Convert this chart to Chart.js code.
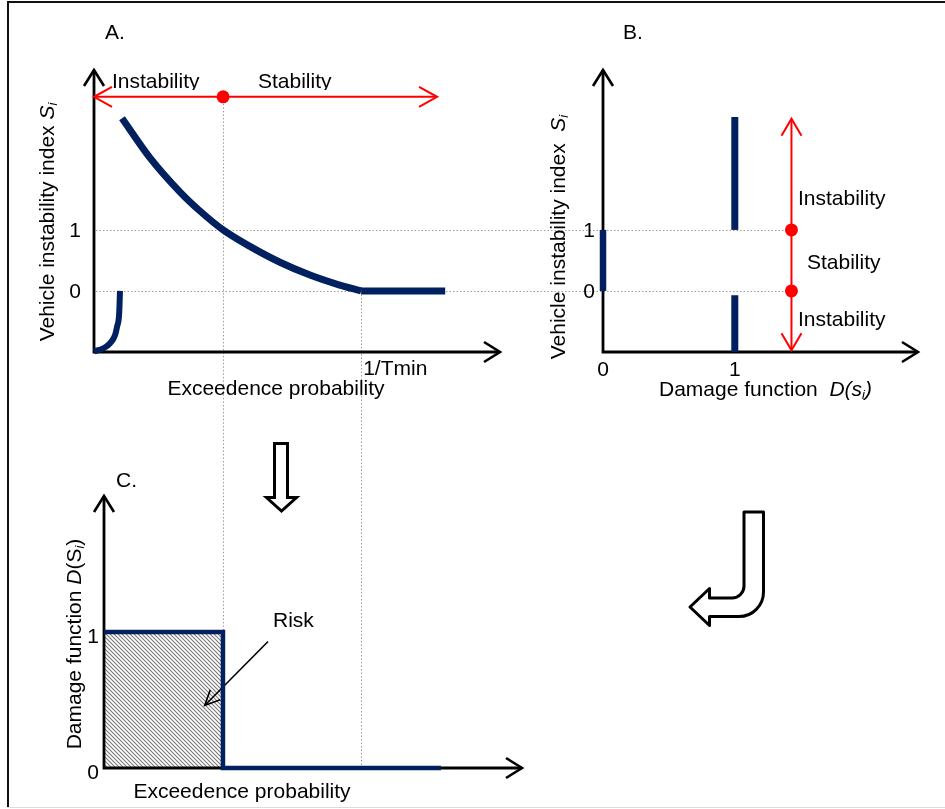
<!DOCTYPE html>
<html>
<head>
<meta charset="utf-8">
<title>Vehicle instability and risk</title>
<script src="https://cdn.jsdelivr.net/npm/chart.js@4.4.1/dist/chart.umd.min.js"></script>
<style>
  html, body { margin: 0; padding: 0; background: #fff; }
  #stage { position: relative; width: 945px; height: 809px; overflow: hidden; }
  #stage canvas { position: absolute; left: 0; top: 0; }
</style>
</head>
<body>
<div id="stage">
  <canvas id="frame" width="945" height="809"></canvas>
  <canvas id="panelA" width="945" height="809"></canvas>
  <canvas id="panelB" width="945" height="809"></canvas>
  <canvas id="panelC" width="945" height="809"></canvas>
</div>
<script>
// A. instability index S_i against exceedence probability
const probA = [0.69, 1.38, 2.12, 2.61, 3.18, 3.84, 4.58, 5.32, 6.03, 6.58];
const indexA = [2.83, 2.18, 1.62, 1.31, 1.00, 0.73, 0.47, 0.26, 0.10, 0];
const probTail = [6.58, 8.65];
const indexTail = [0, 0];
const probLow = [0, 0.23, 0.39, 0.52, 0.57, 0.62, 0.64];
const indexLow = [-0.99, -0.94, -0.86, -0.72, -0.58, -0.37, 0];
const probCritical = 3.18;   // S_i = 1
const probMin = 6.58;        // 1/Tmin
const regimeLevel = 3.18;    // height of the instability / stability arrow
const regimeEnd = 8.45;

// B. damage function against S_i
const stableSpan = [0, 1];
const unstableHigh = [1, 2.85];
const unstableLow = [-1, -0.07];
const regimeX = 1.43;
const regimeSpan = [-0.97, 2.82];
const regimeDots = [0, 1];

// C. damage function against exceedence probability
const riskLevel = 1;
const probStart = 0.25;
const probStepEnd = 8.55;
const pointerProb = [4.29, 2.73];
const pointerDamage = [0.93, 0.46];

// tick labels
const indexTicks = [0, 1];
const damageTicks = [0, 1];
const probTicks = [probMin];
const probTickLabels = ['1/Tmin'];

const W = 945, H = 809;
const FONT = '"Liberation Sans", Arial, Helvetica, sans-serif';
const NAVY = '#002060';
const RED = '#ff0000';
const INK = '#000000';

const xy = (xs, ys) => xs.map((x, i) => ({ x, y: ys[i] }));

function setFont(ctx, size, italic) {
  ctx.font = (italic ? 'italic ' : '') + size + 'px ' + FONT;
}

// text run made of plain / italic / subscript pieces
function drawText(ctx, t) {
  const size = t.size || 21;
  const pieces = t.pieces.map(p => typeof p === 'string' ? { text: p } : p);
  ctx.save();
  if (t.clipBottom) {
    ctx.beginPath();
    ctx.rect(0, 0, W, t.clipBottom);
    ctx.clip();
  }
  ctx.translate(t.x, t.y);
  if (t.rotate) ctx.rotate(t.rotate);
  ctx.fillStyle = INK;
  ctx.textBaseline = 'middle';
  ctx.textAlign = 'left';
  const pieceSize = p => p.sub ? Math.round(size * 0.62) : size;
  const widths = pieces.map(p => {
    setFont(ctx, pieceSize(p), p.italic);
    return ctx.measureText(p.text).width;
  });
  const total = widths.reduce((a, b) => a + b, 0);
  let cx = t.align === 'left' ? 0 : t.align === 'right' ? -total : -total / 2;
  pieces.forEach((p, i) => {
    setFont(ctx, pieceSize(p), p.italic);
    ctx.fillText(p.text, cx, p.sub ? size * 0.28 : 0);
    cx += widths[i];
  });
  ctx.restore();
}

// open arrow head with its tip at (x, y), pointing along (dx, dy)
function chevron(ctx, x, y, dx, dy, len, half) {
  const n = Math.hypot(dx, dy);
  const ux = dx / n, uy = dy / n;
  ctx.beginPath();
  ctx.moveTo(x - ux * len - uy * half, y - uy * len + ux * half);
  ctx.lineTo(x, y);
  ctx.lineTo(x - ux * len + uy * half, y - uy * len - ux * half);
  ctx.stroke();
}

function panelPlugin(spec) {
  return {
    id: 'panel' + spec.name,
    beforeDatasetsDraw(chart) {
      const { ctx, chartArea: a } = chart;
      ctx.save();
      ctx.strokeStyle = INK;
      ctx.lineWidth = 2.8;
      ctx.lineJoin = 'miter';
      ctx.beginPath();
      ctx.moveTo(a.left, a.top);
      ctx.lineTo(a.left, a.bottom);
      ctx.lineTo(a.right, a.bottom);
      ctx.stroke();
      ctx.lineWidth = 2.6;
      chevron(ctx, a.left, a.top, 0, -1, 16, 10);
      chevron(ctx, a.right, a.bottom, 1, 0, 16, 10);
      ctx.restore();
    },
    afterDatasetsDraw(chart) {
      const { ctx, chartArea: a } = chart;
      chart.data.datasets.forEach((ds, i) => {
        if (!ds.arrowAt) return;
        const pts = chart.getDatasetMeta(i).data;
        ctx.save();
        ctx.strokeStyle = ds.borderColor;
        ctx.lineWidth = ds.borderWidth;
        ds.arrowAt.forEach(end => {
          const p = end === 'start' ? pts[0] : pts[pts.length - 1];
          const q = end === 'start' ? pts[1] : pts[pts.length - 2];
          chevron(ctx, p.x, p.y, p.x - q.x, p.y - q.y, ds.arrowLen, ds.arrowHalf);
        });
        ctx.restore();
      });
      const sx = chart.scales.x, sy = chart.scales.y;
      spec.yTicks.forEach((v, i) => drawText(ctx, {
        pieces: [spec.yLabels[i]], align: 'right',
        x: a.left - spec.yPad, y: sy.getPixelForValue(v) + spec.yShift
      }));
      spec.xTicks.forEach((v, i) => drawText(ctx, {
        pieces: [spec.xLabels[i]], align: spec.xAlign,
        x: sx.getPixelForValue(v) + spec.xShift, y: a.bottom + spec.xPad
      }));
      spec.texts.forEach(t => drawText(ctx, t));
    }
  };
}

function panelChart(id, area, xRange, yRange, datasets, spec, extra) {
  return new Chart(document.getElementById(id), {
    type: 'scatter',
    data: { datasets },
    options: {
      responsive: false,
      animation: false,
      events: [],
      layout: {
        padding: { left: area.left, top: area.top, right: W - area.right, bottom: H - area.bottom }
      },
      scales: {
        x: { type: 'linear', display: false, min: xRange[0], max: xRange[1] },
        y: { type: 'linear', display: false, min: yRange[0], max: yRange[1] }
      },
      plugins: Object.assign({ legend: { display: false }, tooltip: { enabled: false } }, extra || {})
    },
    plugins: [panelPlugin(spec)]
  });
}

function line(data, color, width, more) {
  return Object.assign({
    data, showLine: true, borderColor: color, backgroundColor: color,
    borderWidth: width, pointRadius: 0, borderCapStyle: 'butt', clip: false, fill: false
  }, more || {});
}

function dots(data) {
  return { data, showLine: false, pointRadius: 6.5, pointBackgroundColor: RED,
    pointBorderWidth: 0, clip: false };
}

const italicS = [{ text: 'S', italic: true }, { text: 'i', italic: true, sub: true }];

// ---- A ----
const chartA = panelChart('panelA',
  { left: 94, right: 500, top: 70, bottom: 352 }, [0, 10], [-1, 3.62],
  [
    line(xy(probA, indexA), NAVY, 7, { cubicInterpolationMode: 'monotone' }),
    line(xy(probTail, indexTail), NAVY, 7),
    line(xy(probLow, indexLow), NAVY, 6, { cubicInterpolationMode: 'monotone' }),
    line(xy([0, regimeEnd], [regimeLevel, regimeLevel]), RED, 2,
      { arrowAt: ['start', 'end'], arrowLen: 18, arrowHalf: 10 }),
    dots(xy([probCritical], [regimeLevel]))
  ],
  {
    name: 'A',
    yTicks: indexTicks, yLabels: indexTicks.map(String), yPad: 13, yShift: 1,
    xTicks: probTicks, xLabels: probTickLabels, xAlign: 'left', xShift: 2, xPad: 17,
    texts: [
      { pieces: ['A.'], x: 105, y: 33, align: 'left' },
      { pieces: ['Instability'], x: 112, y: 82, align: 'left', clipBottom: 90 },
      { pieces: ['Stability'], x: 258, y: 82, align: 'left', clipBottom: 90 },
      { pieces: ['Vehicle instability index '].concat(italicS), x: 48, y: 222, rotate: -Math.PI / 2 },
      { pieces: ['Exceedence probability'], x: 276, y: 389 }
    ]
  });

// ---- B ----
const chartB = panelChart('panelB',
  { left: 603, right: 918, top: 70, bottom: 352 }, [0, 2.39], [-1, 3.62],
  [
    line(xy([0, 0], stableSpan), NAVY, 6.5),
    line(xy([1, 1], unstableHigh), NAVY, 7),
    line(xy([1, 1], unstableLow), NAVY, 7),
    line(xy([regimeX, regimeX], regimeSpan), RED, 2,
      { arrowAt: ['start', 'end'], arrowLen: 17, arrowHalf: 10 }),
    dots(xy(regimeDots.map(() => regimeX), regimeDots))
  ],
  {
    name: 'B',
    yTicks: indexTicks, yLabels: indexTicks.map(String), yPad: 8, yShift: 1,
    xTicks: damageTicks, xLabels: damageTicks.map(String), xAlign: 'center', xShift: 0, xPad: 18,
    texts: [
      { pieces: ['B.'], x: 623, y: 33, align: 'left' },
      { pieces: ['Instability'], x: 798, y: 199, align: 'left' },
      { pieces: ['Stability'], x: 807, y: 263, align: 'left' },
      { pieces: ['Instability'], x: 798, y: 320, align: 'left' },
      { pieces: ['Vehicle instability index  '].concat(italicS), x: 559, y: 237, rotate: -Math.PI / 2 },
      { pieces: ['Damage function  ', { text: 'D(s', italic: true }, { text: 'i', italic: true, sub: true },
        { text: ')', italic: true }], x: 659, y: 390, align: 'left' }
    ]
  });

// ---- C ----
const hatchTile = document.createElement('canvas');
hatchTile.width = hatchTile.height = 4;
const ht = hatchTile.getContext('2d');
ht.strokeStyle = '#7a7a7a';
ht.lineWidth = 1.1;
ht.beginPath();
ht.moveTo(-1, -1); ht.lineTo(5, 5);
ht.moveTo(-1, 3); ht.lineTo(1, 5);
ht.moveTo(3, -1); ht.lineTo(5, 1);
ht.stroke();
const hatch = document.getElementById('panelC').getContext('2d').createPattern(hatchTile, 'repeat');

const chartC = panelChart('panelC',
  { left: 104, right: 522, top: 496, bottom: 768 }, [probStart, 10.545], [0, 2],
  [
    line(xy([probStart, probCritical], [riskLevel, riskLevel]), 'rgba(0,0,0,0)', 0,
      { fill: 'origin', backgroundColor: hatch }),
    line(xy([probStart, probCritical, probCritical, probStepEnd], [riskLevel, riskLevel, 0, 0]), NAVY, 4.5,
      { borderJoinStyle: 'miter' }),
    line(xy(pointerProb, pointerDamage), INK, 1.6, { arrowAt: ['end'], arrowLen: 15, arrowHalf: 7 })
  ],
  {
    name: 'C',
    yTicks: damageTicks, yLabels: damageTicks.map(String), yPad: 5, yShift: 5,
    xTicks: [], xLabels: [], xAlign: 'center', xShift: 0, xPad: 0,
    texts: [
      { pieces: ['C.'], x: 116, y: 481, align: 'left' },
      { pieces: ['Risk'], x: 273, y: 621, align: 'left' },
      { pieces: ['Damage function ', { text: 'D', italic: true }, '(S', { text: 'i', italic: true, sub: true }, ')'],
        x: 75, y: 644, rotate: -Math.PI / 2 },
      { pieces: ['Exceedence probability'], x: 242, y: 792 }
    ]
  },
  { filler: { drawTime: 'beforeDraw' } });

// ---- frame, guide lines and connecting arrows ----
const fc = document.getElementById('frame').getContext('2d');
fc.fillStyle = '#fff';
fc.fillRect(0, 0, W, H);
fc.fillStyle = '#111';
fc.fillRect(7, 1, W - 7, 2);
fc.fillRect(7, 1, 2, H - 2);
fc.fillStyle = '#dcdcdc';
fc.fillRect(7, 807, W - 7, 1);

function guide(x0, y0, x1, y1) {
  fc.beginPath();
  fc.moveTo(x0, y0);
  fc.lineTo(x1, y1);
  fc.stroke();
}
fc.save();
fc.strokeStyle = '#9c9c9c';
fc.lineWidth = 1;
fc.setLineDash([1.5, 2]);
const snap = v => Math.round(v) + 0.5;
const xCrit = snap(chartA.scales.x.getPixelForValue(probCritical));
guide(xCrit, chartA.scales.y.getPixelForValue(regimeLevel), xCrit, chartC.scales.y.getPixelForValue(riskLevel));
const xMin = snap(chartA.scales.x.getPixelForValue(probMin));
guide(xMin, chartA.scales.y.getPixelForValue(0), xMin, chartC.scales.y.getPixelForValue(0));
indexTicks.forEach(v => {
  const y = snap(chartA.scales.y.getPixelForValue(v));
  guide(chartA.scales.x.getPixelForValue(0) + 2, y, chartB.scales.x.getPixelForValue(regimeX), y);
});
fc.restore();

fc.save();
fc.strokeStyle = INK;
fc.fillStyle = '#fff';
fc.lineWidth = 3;
fc.lineJoin = 'miter';
// downward block arrow between A and C
fc.beginPath();
fc.moveTo(274.5, 443.5);
fc.lineTo(287.5, 443.5);
fc.lineTo(287.5, 497.5);
fc.lineTo(296.5, 497.5);
fc.lineTo(281.5, 511);
fc.lineTo(266.5, 497.5);
fc.lineTo(274.5, 497.5);
fc.closePath();
fc.fill();
fc.stroke();
// hooked arrow from B towards C
fc.lineJoin = 'round';
fc.beginPath();
fc.moveTo(690, 607);
fc.lineTo(709.5, 588.5);
fc.lineTo(709.5, 598);
fc.lineTo(732, 598);
fc.arcTo(744, 598, 744, 586, 12);
fc.lineTo(744, 512);
fc.lineTo(763.5, 512);
fc.lineTo(763.5, 592);
fc.arcTo(763.5, 616.5, 739, 616.5, 24.5);
fc.lineTo(709.5, 616.5);
fc.lineTo(709.5, 625.5);
fc.closePath();
fc.fill();
fc.stroke();
fc.restore();
</script>
</body>
</html>
